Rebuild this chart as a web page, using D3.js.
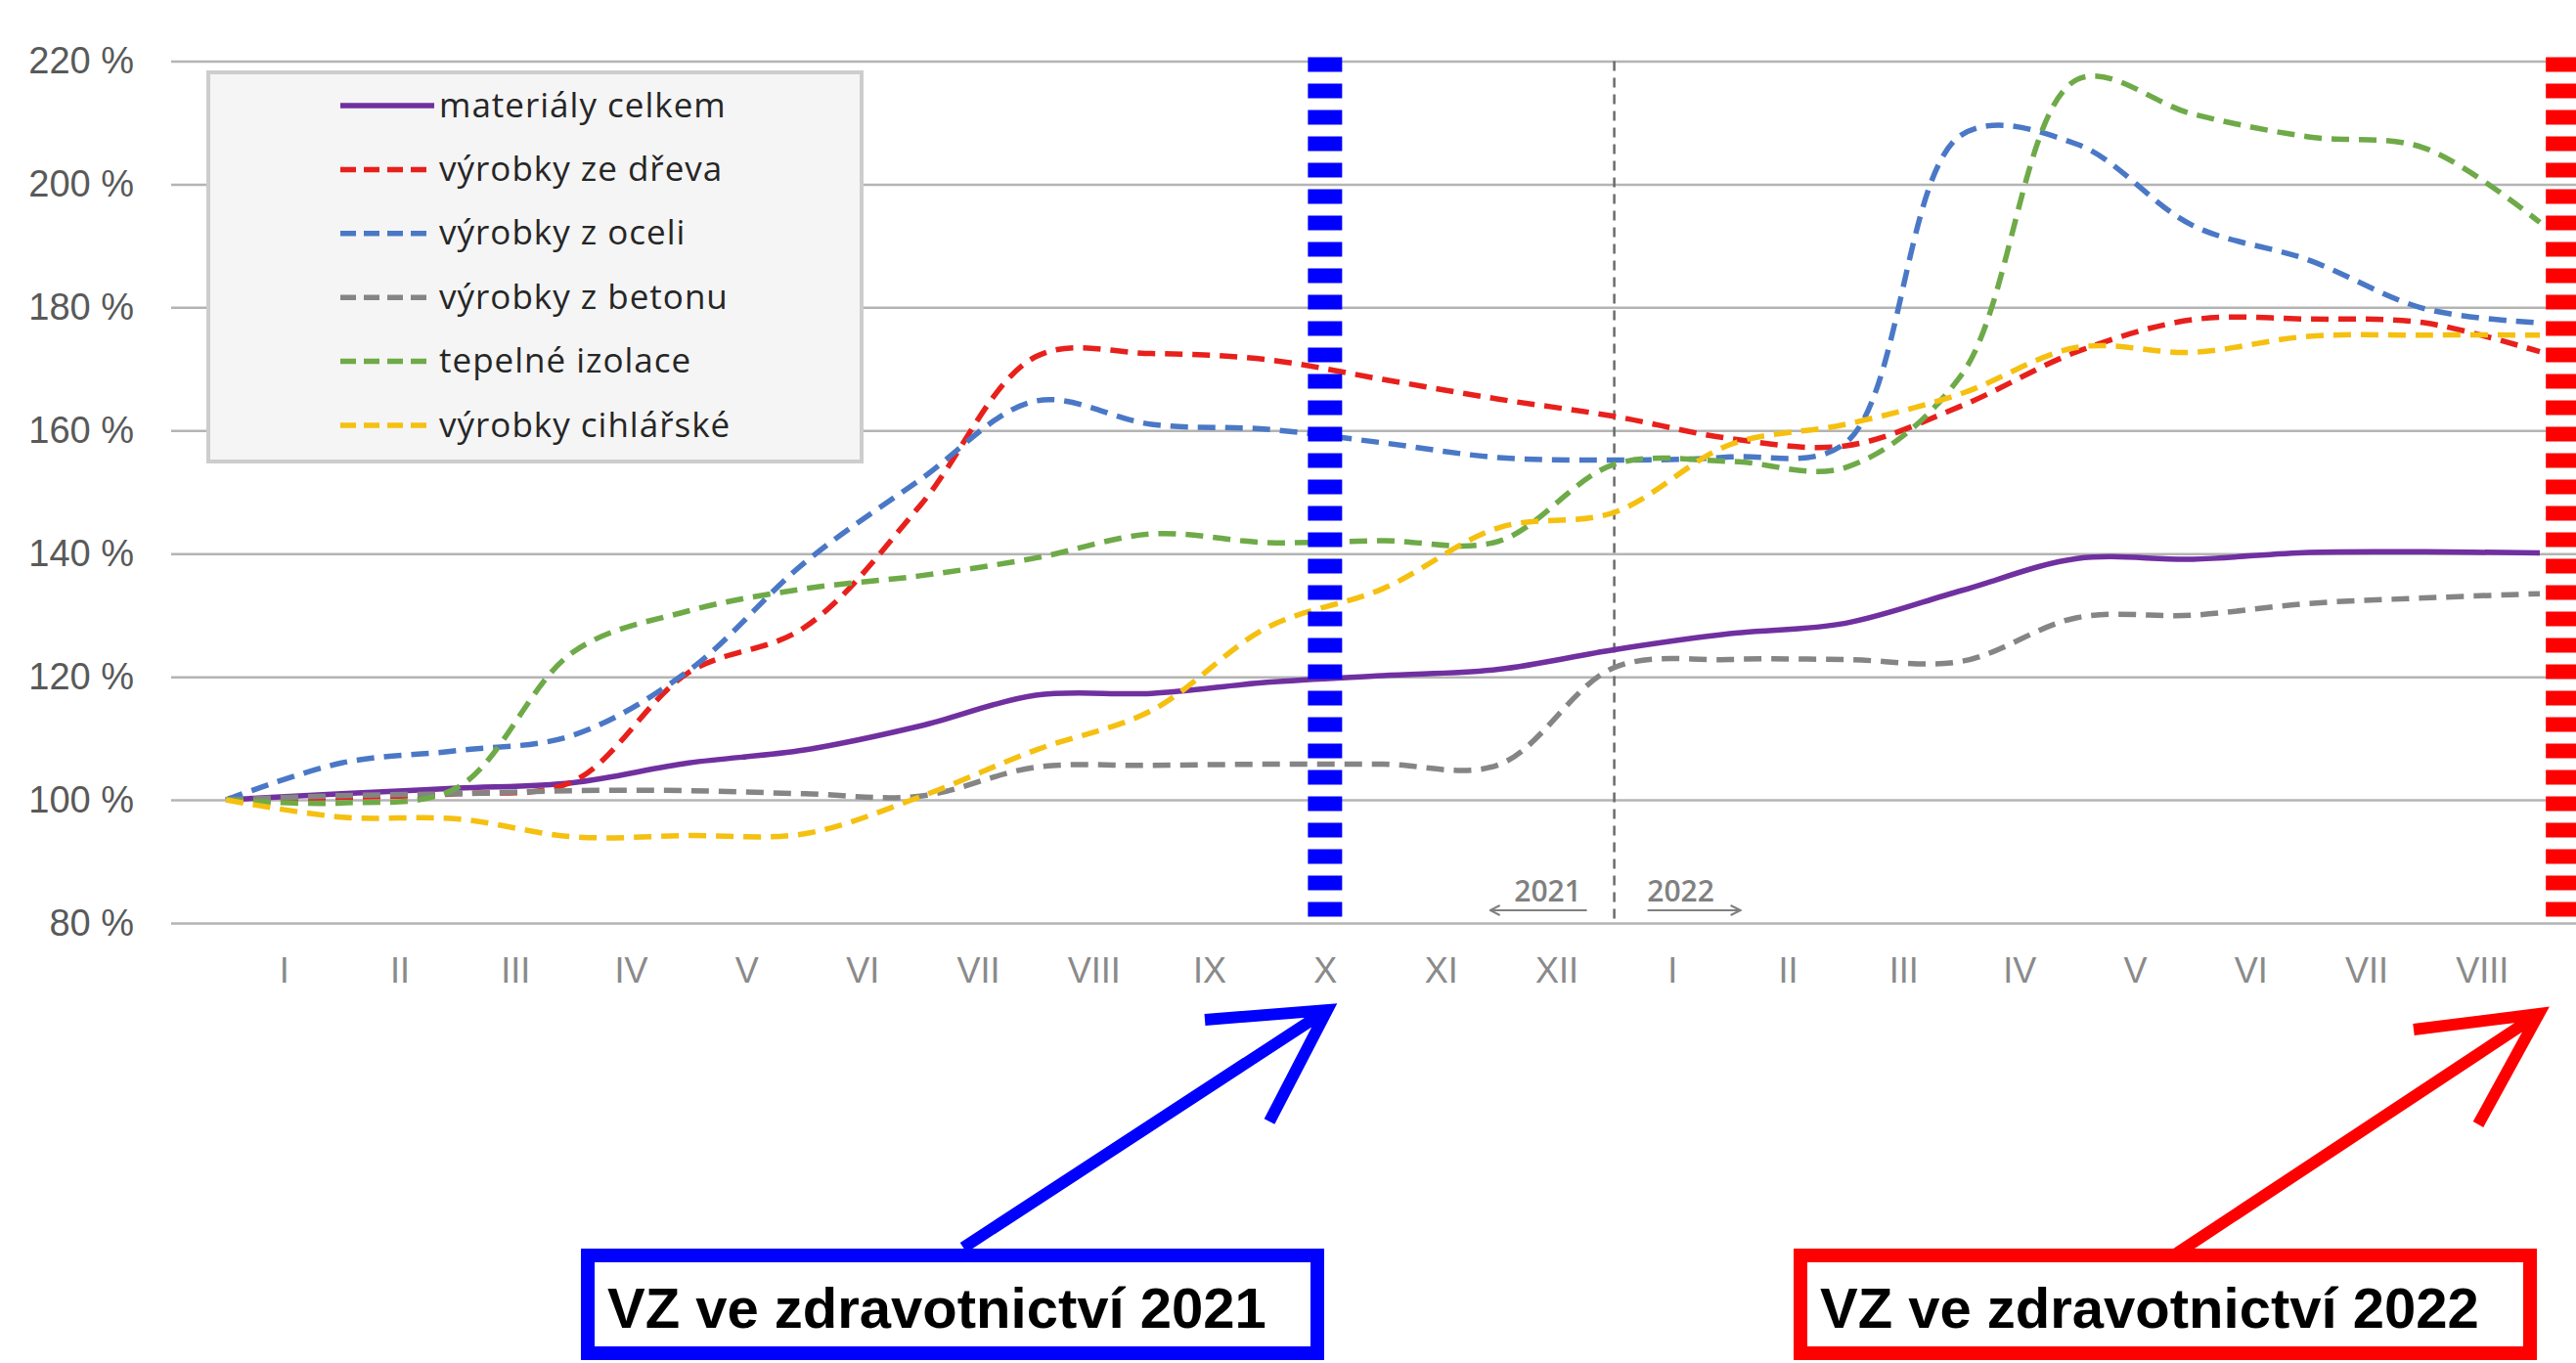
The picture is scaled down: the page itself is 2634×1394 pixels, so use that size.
<!DOCTYPE html>
<html>
<head>
<meta charset="utf-8">
<script src="https://cdn.jsdelivr.net/npm/d3@7"></script>
<style>
  body { margin: 0; background: #fff; }
  svg { display: block; }
</style>
</head>
<body>
<div id="chart"></div>
<script>
// months on the category axis (2021 I-XII, 2022 I-VIII)
const months = ["I", "II", "III", "IV", "V", "VI", "VII", "VIII", "IX", "X", "XI", "XII",
                "I", "II", "III", "IV", "V", "VI", "VII", "VIII"];
const yTicks = [80, 100, 120, 140, 160, 180, 200, 220];

const seriesNames = ["materiály celkem", "výrobky ze dřeva", "výrobky z oceli",
                     "výrobky z betonu", "tepelné izolace", "výrobky cihlářské"];

// index values in %, point 0 = base (100 %)
const materialyCelkem = [100, 101, 101.9, 102.8, 106, 108.1, 112, 117, 117.3, 119.1, 120.2,
                         121.2, 124.4, 127, 128.7, 134, 139.2, 139.1, 140.2, 140.3, 140.1];
const vyrobkyDreva = [100, 100.4, 101, 103, 120.7, 128, 147.8, 172, 172.5, 171.5, 168.3,
                      165.1, 162.3, 158.7, 157.5, 164, 172.8, 178, 178.1, 177.5, 172.8];
const vyrobkyOceli = [100, 106, 108, 110.5, 121, 138.5, 152, 164.8, 161, 160.2, 158,
                      155.6, 155.2, 155.7, 158, 208, 206.5, 193.3, 187.7, 179.8, 177.5];
const vyrobkyBetonu = [100, 100.7, 101, 101.5, 101.5, 101, 100.6, 105.3, 105.6, 105.8, 105.8,
                       105.7, 121.5, 122.8, 122.8, 122.5, 129.6, 130, 131.9, 132.8, 133.5];
const tepelneIzolace = [100, 99.5, 102, 124, 130.7, 134.3, 136.4, 139.3, 143.2, 141.8, 142.1,
                        142, 154.5, 155, 154, 169, 217, 211.4, 207.7, 205.9, 193.8];
const vyrobkyCihlarske = [100, 97.2, 96.9, 94, 94.2, 94.5, 100.5, 108.1, 114.5, 128, 134.3,
                          144.2, 146.7, 157.7, 161, 166, 173.5, 172.7, 175.3, 175.5, 175.5];

const seriesValues = [materialyCelkem, vyrobkyDreva, vyrobkyOceli,
                      vyrobkyBetonu, tepelneIzolace, vyrobkyCihlarske];
const seriesColors = ["#7030a0", "#e8201c", "#4a78c6", "#858585", "#6eaa48", "#f5c010"];
const seriesDashed = [false, true, true, true, true, true];

const width = 2634;
const height = 1394;
const plotLeft = 175;

const x = d3.scaleLinear([0, 20], [231, 2597]);
const y = d3.scaleLinear([80, 220], [944, 62.5]);

const svg = d3.select("#chart")
    .append("svg")
    .attr("width", width)
    .attr("height", height)
    .attr("viewBox", [0, 0, width, height]);

// horizontal gridlines
svg.append("g")
    .attr("transform", `translate(${plotLeft},0)`)
    .call(d3.axisLeft(y).tickValues(yTicks).tickSize(-(width - plotLeft)).tickFormat(""))
    .call(g => g.select(".domain").remove())
    .call(g => g.selectAll(".tick line").attr("stroke", "#b4b4b4").attr("stroke-width", 2.5));

// y labels
svg.append("g")
    .attr("transform", "translate(137,0)")
    .call(d3.axisLeft(y).tickValues(yTicks).tickSize(0).tickPadding(0).tickFormat(d => d + " %"))
    .call(g => g.select(".domain").remove())
    .call(g => g.selectAll("text")
        .attr("font-family", "Liberation Sans, Arial, sans-serif")
        .attr("font-size", 38)
        .attr("fill", "#595959"));

// month labels sit between the data points
svg.append("g")
    .attr("transform", `translate(0,${y(80)})`)
    .call(d3.axisBottom(x).tickValues(d3.range(months.length).map(i => i + 0.5))
        .tickSize(0).tickPadding(35).tickFormat(d => months[Math.floor(d)]))
    .call(g => g.select(".domain").remove())
    .call(g => g.selectAll("text")
        .attr("font-family", "Liberation Sans, Arial, sans-serif")
        .attr("font-size", 36)
        .attr("fill", "#8a8a8a"));

// 2021 / 2022 separator
const sepX = x(12);
svg.append("line")
    .attr("x1", sepX).attr("x2", sepX)
    .attr("y1", y(220)).attr("y2", y(80))
    .attr("stroke", "#6b6b6b")
    .attr("stroke-width", 2.5)
    .attr("stroke-dasharray", "10,7");

const defs = svg.append("defs");
defs.append("marker")
    .attr("id", "yearArrow")
    .attr("viewBox", "0 0 12 12")
    .attr("refX", 11).attr("refY", 6)
    .attr("markerWidth", 12).attr("markerHeight", 12)
    .attr("markerUnits", "userSpaceOnUse")
    .attr("orient", "auto-start-reverse")
    .append("path")
    .attr("d", "M1,1 L11,6 L1,11")
    .attr("fill", "none")
    .attr("stroke", "#808080")
    .attr("stroke-width", 2);

const yearMarks = [
    { text: "2021", cx: sepX - 68, a1: sepX - 127, a2: sepX - 28, start: true },
    { text: "2022", cx: sepX + 68, a1: sepX + 34, a2: sepX + 129, start: false }
];
yearMarks.forEach(m => {
    svg.append("text")
        .attr("x", m.cx).attr("y", 922)
        .attr("text-anchor", "middle")
        .attr("font-family", "Open Sans, sans-serif")
        .attr("font-weight", 600)
        .attr("font-size", 30)
        .attr("fill", "#808080")
        .text(m.text);
    const l = svg.append("line")
        .attr("x1", m.a1).attr("x2", m.a2)
        .attr("y1", 931).attr("y2", 931)
        .attr("stroke", "#808080")
        .attr("stroke-width", 2);
    if (m.start) l.attr("marker-start", "url(#yearArrow)");
    else l.attr("marker-end", "url(#yearArrow)");
});

// series
const line = d3.line()
    .x((d, i) => x(i))
    .y(d => y(d))
    .curve(d3.curveCatmullRom.alpha(0.5));

seriesValues.forEach((vals, i) => {
    svg.append("path")
        .attr("d", line(vals))
        .attr("fill", "none")
        .attr("stroke", seriesColors[i])
        .attr("stroke-width", 5.5)
        .attr("stroke-dasharray", seriesDashed[i] ? "18,10" : null);
});

// legend
const legend = svg.append("g");
legend.append("rect")
    .attr("x", 213).attr("y", 74)
    .attr("width", 668).attr("height", 398)
    .attr("fill", "#f5f5f5")
    .attr("stroke", "#cdcdcd")
    .attr("stroke-width", 4);

seriesNames.forEach((name, i) => {
    const ly = 108 + i * 65.4;
    legend.append("line")
        .attr("x1", 348).attr("x2", 444)
        .attr("y1", ly).attr("y2", ly)
        .attr("stroke", seriesColors[i])
        .attr("stroke-width", 5.5)
        .attr("stroke-dasharray", seriesDashed[i] ? "16,8" : null);
    legend.append("text")
        .attr("x", 449).attr("y", ly)
        .attr("dy", "0.33em")
        .attr("font-family", "Open Sans, sans-serif")
        .attr("font-size", 35)
        .attr("letter-spacing", 1)
        .attr("fill", "#262626")
        .text(name);
});

// public procurement markers
const vzMarks = [
    { at: 9.5, color: "#0000ff" },
    { at: 20.2, color: "#ff0000" }
];
vzMarks.forEach(m => {
    svg.append("line")
        .attr("x1", x(m.at)).attr("x2", x(m.at))
        .attr("y1", y(220) - 4).attr("y2", y(80))
        .attr("stroke", m.color)
        .attr("stroke-width", 35)
        .attr("stroke-dasharray", "15,12");
});

const callouts = [
    { label: "VZ ve zdravotnictví 2021", color: "#0000ff", boxX: 601, textX: 621,
      tail: [985, 1276], tip: [1357, 1033], arm1: [1232, 1043], arm2: [1298, 1147] },
    { label: "VZ ve zdravotnictví 2022", color: "#ff0000", boxX: 1841, textX: 1861,
      tail: [2224, 1283], tip: [2596, 1037], arm1: [2468, 1053], arm2: [2534, 1150] }
];
callouts.forEach(c => {
    svg.append("path")
        .attr("d", `M${c.tail}L${c.tip}M${c.arm1}L${c.tip}L${c.arm2}`)
        .attr("fill", "none")
        .attr("stroke", c.color)
        .attr("stroke-width", 12)
        .attr("stroke-linejoin", "miter");
    svg.append("rect")
        .attr("x", c.boxX).attr("y", 1284)
        .attr("width", 746).attr("height", 100)
        .attr("fill", "#fff")
        .attr("stroke", c.color)
        .attr("stroke-width", 14);
    svg.append("text")
        .attr("x", c.textX).attr("y", 1358)
        .attr("font-family", "Liberation Sans, Arial, sans-serif")
        .attr("font-weight", "bold")
        .attr("font-size", 58)
        .attr("fill", "#000")
        .text(c.label);
});
</script>
</body>
</html>
